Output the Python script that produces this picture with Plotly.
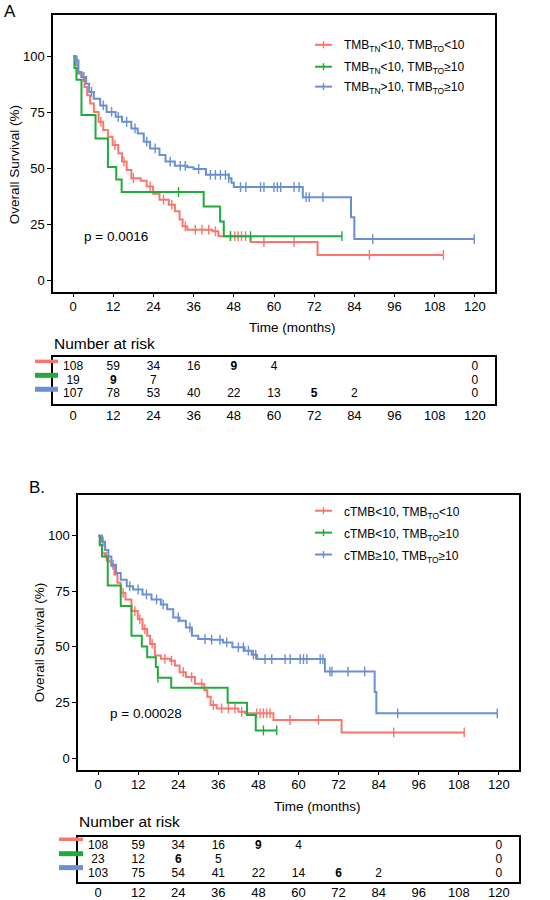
import numpy as np
import plotly.graph_objects as go

W, H = 550, 900
FONT = "Liberation Sans, Arial, sans-serif"

# ---------------- Data: panel A ----------------
a_red_t = [0, 0.7, 1.4, 2.5, 3.4, 4.2, 5.1, 6.2, 7.6, 9.0, 10.4, 11.8, 13.5, 14.6, 16.0, 17.4,
           20.2, 22.0, 23.9, 25.8, 28.6, 30.4, 31.8, 32.7, 34.1, 41.6, 43.4, 53.0, 73.0]
a_red_s = [100, 95.9, 92.1, 90.7, 86.2, 82.5, 78.8, 75.1, 70.7, 67.0, 64.0, 60.3, 56.6, 52.9, 49.2, 45.5,
           44.4, 41.8, 38.5, 35.9, 33.6, 30.7, 27.0, 24.0, 22.5, 21.8, 19.6, 17.0, 11.2]
a_red_end = 110.6
a_red_cens = [3.0, 8.3, 12.5, 15.2, 18.0, 23.0, 27.0, 29.5, 33.5, 36.5, 38.5, 40.5, 42.5, 47.0, 48.3,
              49.3, 50.3, 51.5, 57.0, 66.0, 88.5, 110.6]

a_green_t = [0, 0.4, 1.0, 2.5, 6.7, 10.4, 12.9, 14.5, 39.0, 43.9, 45.0]
a_green_s = [100, 94.7, 89.5, 73.7, 63.2, 50.5, 44.9, 39.3, 32.8, 26.2, 19.6]
a_green_end = 80.3
a_green_cens = [31.5, 47.0, 53.0, 80.3]

a_blue_t = [0, 0.7, 1.6, 2.5, 3.9, 4.8, 6.2, 8.1, 10.0, 12.7, 14.6, 17.4, 19.3, 21.1, 23.0, 25.8,
            27.6, 30.4, 34.1, 36.0, 39.7, 46.5, 47.3, 48.0, 68.6, 83.0, 84.0]
a_blue_s = [100, 98.1, 92.9, 90.7, 87.7, 84.0, 81.0, 78.0, 75.1, 72.9, 70.7, 67.7, 65.5, 61.8, 58.8, 55.9,
            52.9, 51.0, 50.4, 49.6, 47.0, 45.5, 43.5, 41.5, 37.0, 28.0, 18.3]
a_blue_end = 119.8
a_blue_cens = [1.2, 3.2, 5.5, 9.0, 11.5, 13.5, 16.0, 18.5, 22.0, 24.5, 29.0, 32.0, 33.5, 37.5, 41.0,
               42.5, 44.0, 45.5, 46.5, 50.0, 51.6, 56.0, 57.0, 60.0, 61.0, 62.0, 66.0, 67.5, 69.6,
               70.5, 74.6, 89.5, 119.8]

# ---------------- Data: panel B ----------------
b_red_t = [0, 0.7, 1.2, 2.1, 3.1, 4.0, 4.9, 5.8, 6.8, 8.2, 10.0, 11.9, 13.3, 14.7, 15.6, 17.0, 18.8,
           21.6, 23.0, 24.4, 26.3, 29.0, 31.8, 32.7, 33.7, 35.5, 42.0, 44.0, 52.5, 72.9]
b_red_s = [100, 95.8, 92.1, 90.6, 88.4, 86.2, 82.5, 78.8, 74.3, 71.3, 66.1, 62.4, 58.0, 55.0, 51.3, 46.1, 44.6,
           43.8, 41.6, 38.6, 36.4, 33.4, 30.5, 27.5, 23.8, 22.3, 20.8, 20.1, 17.1, 11.5]
b_red_end = 109.6
b_red_cens = [2.5, 7.5, 11.0, 12.5, 14.0, 16.2, 20.0, 22.0, 25.5, 28.0, 31.0, 34.5, 37.0, 39.0, 41.0,
              43.0, 47.5, 48.5, 49.5, 50.5, 51.5, 57.5, 66.0, 88.5, 109.6]

b_green_t = [0, 0.5, 1.2, 2.9, 6.8, 10.0, 13.1, 14.7, 17.3, 17.9, 21.9, 38.8, 44.6, 47.2]
b_green_s = [100, 95.7, 90.6, 77.6, 68.4, 55.0, 50.2, 45.3, 40.9, 36.1, 31.6, 24.8, 19.3, 12.4]
b_green_end = 53.5
b_green_cens = [17.9, 49.5, 53.5]

b_blue_t = [0, 1.2, 2.1, 3.1, 4.0, 5.4, 6.8, 8.6, 10.5, 13.3, 16.0, 18.8, 20.7, 22.5, 24.4, 26.3,
            28.1, 30.0, 33.7, 37.4, 40.2, 43.9, 46.0, 47.6, 67.9, 82.8, 83.3]
b_blue_s = [100, 97.3, 93.6, 90.6, 86.9, 83.2, 80.2, 77.3, 75.8, 73.6, 71.3, 69.1, 66.9, 63.2, 61.7, 58.7,
            55.0, 53.5, 53.2, 52.0, 49.8, 48.3, 46.5, 44.5, 38.9, 29.7, 20.1]
b_blue_end = 119.5
b_blue_cens = [1.5, 4.5, 9.5, 12.0, 14.5, 17.5, 19.5, 24.0, 27.5, 32.0, 34.0, 36.5, 38.5, 42.0, 43.5,
               45.0, 46.5, 47.2, 50.0, 52.0, 56.0, 57.5, 60.5, 61.5, 62.5, 66.5, 67.3, 69.4, 70.0,
               74.8, 79.8, 89.7, 119.5]

# ---------------- Number at risk ----------------
risk_times = [0, 12, 24, 36, 48, 60, 72, 84, 96, 108, 120]
a_risk_red = [108, 59, 34, 16, 9, 4, None, None, None, None, 0]
a_risk_green = [19, 9, 7, None, None, None, None, None, None, None, 0]
a_risk_blue = [107, 78, 53, 40, 22, 13, 5, 2, None, None, 0]
b_risk_red = [108, 59, 34, 16, 9, 4, None, None, None, None, 0]
b_risk_green = [23, 12, 6, 5, None, None, None, None, None, None, 0]
b_risk_blue = [103, 75, 54, 41, 22, 14, 6, 2, None, None, 0]
a_bold = [(0, 48), (1, 12), (2, 72)]
b_bold = [(0, 48), (1, 24), (2, 72)]

y_ticks = [0, 25, 50, 75, 100]
x_ticks = [0, 12, 24, 36, 48, 60, 72, 84, 96, 108, 120]

legend_a = ["TMB<sub>TN</sub>&lt;10, TMB<sub>TO</sub>&lt;10",
            "TMB<sub>TN</sub>&lt;10, TMB<sub>TO</sub>≥10",
            "TMB<sub>TN</sub>&gt;10, TMB<sub>TO</sub>≥10"]
legend_b = ["cTMB&lt;10, TMB<sub>TO</sub>&lt;10",
            "cTMB&lt;10, TMB<sub>TO</sub>≥10",
            "cTMB≥10, TMB<sub>TO</sub>≥10"]
p_a = "p = 0.0016"
p_b = "p = 0.00028"

RED, GREEN, BLUE = "#F8766D", "#22AA3C", "#6B8FD3"
COLORS = [RED, GREEN, BLUE]


def px(x):
    return x / W


def py(y):
    return 1 - y / H


fig = go.Figure()


def add_km(t, s, end, cens, color, xa, ya):
    fig.add_trace(go.Scatter(
        x=list(t) + [end], y=list(s) + [s[-1]], mode="lines",
        line=dict(color=color, width=2, shape="hv"),
        xaxis=xa, yaxis=ya, showlegend=False, hoverinfo="skip"))
    idx = np.searchsorted(np.array(t), np.array(cens), side="right") - 1
    cy = [s[i] for i in idx]
    fig.add_trace(go.Scatter(
        x=cens, y=cy, mode="markers",
        marker=dict(symbol="line-ns", size=7, color=color, line=dict(color=color, width=1.4)),
        xaxis=xa, yaxis=ya, showlegend=False, hoverinfo="skip"))


add_km(a_red_t, a_red_s, a_red_end, a_red_cens, RED, "x", "y")
add_km(a_green_t, a_green_s, a_green_end, a_green_cens, GREEN, "x", "y")
add_km(a_blue_t, a_blue_s, a_blue_end, a_blue_cens, BLUE, "x", "y")
add_km(b_red_t, b_red_s, b_red_end, b_red_cens, RED, "x3", "y3")
add_km(b_green_t, b_green_s, b_green_end, b_green_cens, GREEN, "x3", "y3")
add_km(b_blue_t, b_blue_s, b_blue_end, b_blue_cens, BLUE, "x3", "y3")


def add_risk(rows, bold, xa, ya):
    for r, vals in enumerate(rows):
        xs, ys, txt = [], [], []
        for t, v in zip(risk_times, vals):
            if v is None:
                continue
            xs.append(t)
            ys.append(r + 1)
            s = str(v)
            txt.append("<b>" + s + "</b>" if (r, t) in bold else s)
        fig.add_trace(go.Scatter(
            x=xs, y=ys, text=txt, mode="text",
            textfont=dict(family=FONT, size=12, color="black"),
            xaxis=xa, yaxis=ya, showlegend=False, hoverinfo="skip"))


add_risk([a_risk_red, a_risk_green, a_risk_blue], a_bold, "x2", "y2")
add_risk([b_risk_red, b_risk_green, b_risk_blue], b_bold, "x4", "y4")

axis_common = dict(showline=True, mirror=True, linecolor="black", linewidth=1.5,
                   showgrid=False, zeroline=False,
                   tickfont=dict(family=FONT, size=13, color="black"))

xa_dom = [px(53), px(495)]
xb_dom = [px(78), px(519)]
xrange_ = [-6, 126]
yrange_ = [-5.2, 118.4]

fig.update_layout(
    width=W, height=H, margin=dict(l=0, r=0, t=0, b=0),
    paper_bgcolor="white", plot_bgcolor="white", showlegend=False,
    xaxis=dict(domain=xa_dom, anchor="y", range=xrange_, tickvals=x_ticks, ticks="outside",
               ticklen=4, tickcolor="black", ticklabelstandoff=-2, **axis_common),
    yaxis=dict(domain=[py(293), py(15)], anchor="x", range=yrange_, tickvals=y_ticks,
               ticks="outside", ticklen=4, tickcolor="black", **axis_common),
    xaxis2=dict(domain=xa_dom, anchor="y2", range=xrange_, tickvals=x_ticks, ticks="",
                ticklabelstandoff=-2, **axis_common),
    yaxis2=dict(domain=[py(406), py(359)], anchor="x2", range=[3.74, 0.26],
                showticklabels=False, ticks="", **axis_common),
    xaxis3=dict(domain=xb_dom, anchor="y3", range=xrange_, tickvals=x_ticks, ticks="outside",
                ticklen=4, tickcolor="black", ticklabelstandoff=-2, **axis_common),
    yaxis3=dict(domain=[py(773), py(497)], anchor="x3", range=yrange_, tickvals=y_ticks,
                ticks="outside", ticklen=4, tickcolor="black", **axis_common),
    xaxis4=dict(domain=xb_dom, anchor="y4", range=xrange_, tickvals=x_ticks, ticks="",
                ticklabelstandoff=-2, **axis_common),
    yaxis4=dict(domain=[py(886), py(841)], anchor="x4", range=[3.57, 0.36],
                showticklabels=False, ticks="", **axis_common),
)

ann = []
shapes = []


def text(x, y, s, size, xanchor="left", yanchor="middle", angle=0, xref="paper", yref="paper"):
    ann.append(dict(x=px(x) if xref == "paper" else x, y=py(y) if yref == "paper" else y,
                    xref=xref, yref=yref, text=s, showarrow=False, xanchor=xanchor,
                    yanchor=yanchor, textangle=angle,
                    font=dict(family=FONT, size=size, color="black")))


# Panel labels
text(2, 12, "A", 17)
text(27, 490, "B.", 17)

# Axis titles
text(14, 166, "Overall Survival (%)", 13.5, xanchor="center", angle=-90)
text(39, 646, "Overall Survival (%)", 13.5, xanchor="center", angle=-90)
text(292, 329, "Time (months)", 13.5, xanchor="center")
text(317, 810, "Time (months)", 13.5, xanchor="center")

# Number at risk titles
text(52, 345, "Number at risk", 15.5)
text(77, 825, "Number at risk", 15.5)

# p-values (data coordinates)
text(2.7, 19.6, p_a, 13.5, xref="x", yref="y")
text(3.0, 20.0, p_b, 13.5, xref="x3", yref="y3")

# Legends
for i, (lab, yy) in enumerate(zip(legend_a, [45, 67, 87])):
    shapes.append(dict(type="line", xref="paper", yref="paper", x0=px(315), x1=px(332),
                       y0=py(yy), y1=py(yy), line=dict(color=COLORS[i], width=2)))
    shapes.append(dict(type="line", xref="paper", yref="paper", x0=px(323.5), x1=px(323.5),
                       y0=py(yy - 3.5), y1=py(yy + 3.5), line=dict(color=COLORS[i], width=1.4)))
    text(342, yy + 1.5, lab, 12)
for i, (lab, yy) in enumerate(zip(legend_b, [513, 535, 557])):
    shapes.append(dict(type="line", xref="paper", yref="paper", x0=px(315), x1=px(332),
                       y0=py(yy), y1=py(yy), line=dict(color=COLORS[i], width=2)))
    shapes.append(dict(type="line", xref="paper", yref="paper", x0=px(323.5), x1=px(323.5),
                       y0=py(yy - 3.5), y1=py(yy + 3.5), line=dict(color=COLORS[i], width=1.4)))
    text(342, yy + 2, lab, 12)

# Risk table colour keys
for i, (yy, w) in enumerate(zip([363, 377, 391], [3.5, 5, 5])):
    shapes.append(dict(type="line", xref="paper", yref="paper", x0=px(35), x1=px(58),
                       y0=py(yy), y1=py(yy), line=dict(color=COLORS[i], width=w)))
for i, (yy, w) in enumerate(zip([843, 857.5, 871.5], [3.5, 5, 5])):
    shapes.append(dict(type="line", xref="paper", yref="paper", x0=px(59), x1=px(83),
                       y0=py(yy), y1=py(yy), line=dict(color=COLORS[i], width=w)))

fig.update_layout(annotations=ann, shapes=shapes)
fig.write_html(
    "out.html",
    config={"displayModeBar": False},
    post_script="document.documentElement.style.margin='0';"
                "document.body.style.margin='0';document.body.style.padding='0';",
)
